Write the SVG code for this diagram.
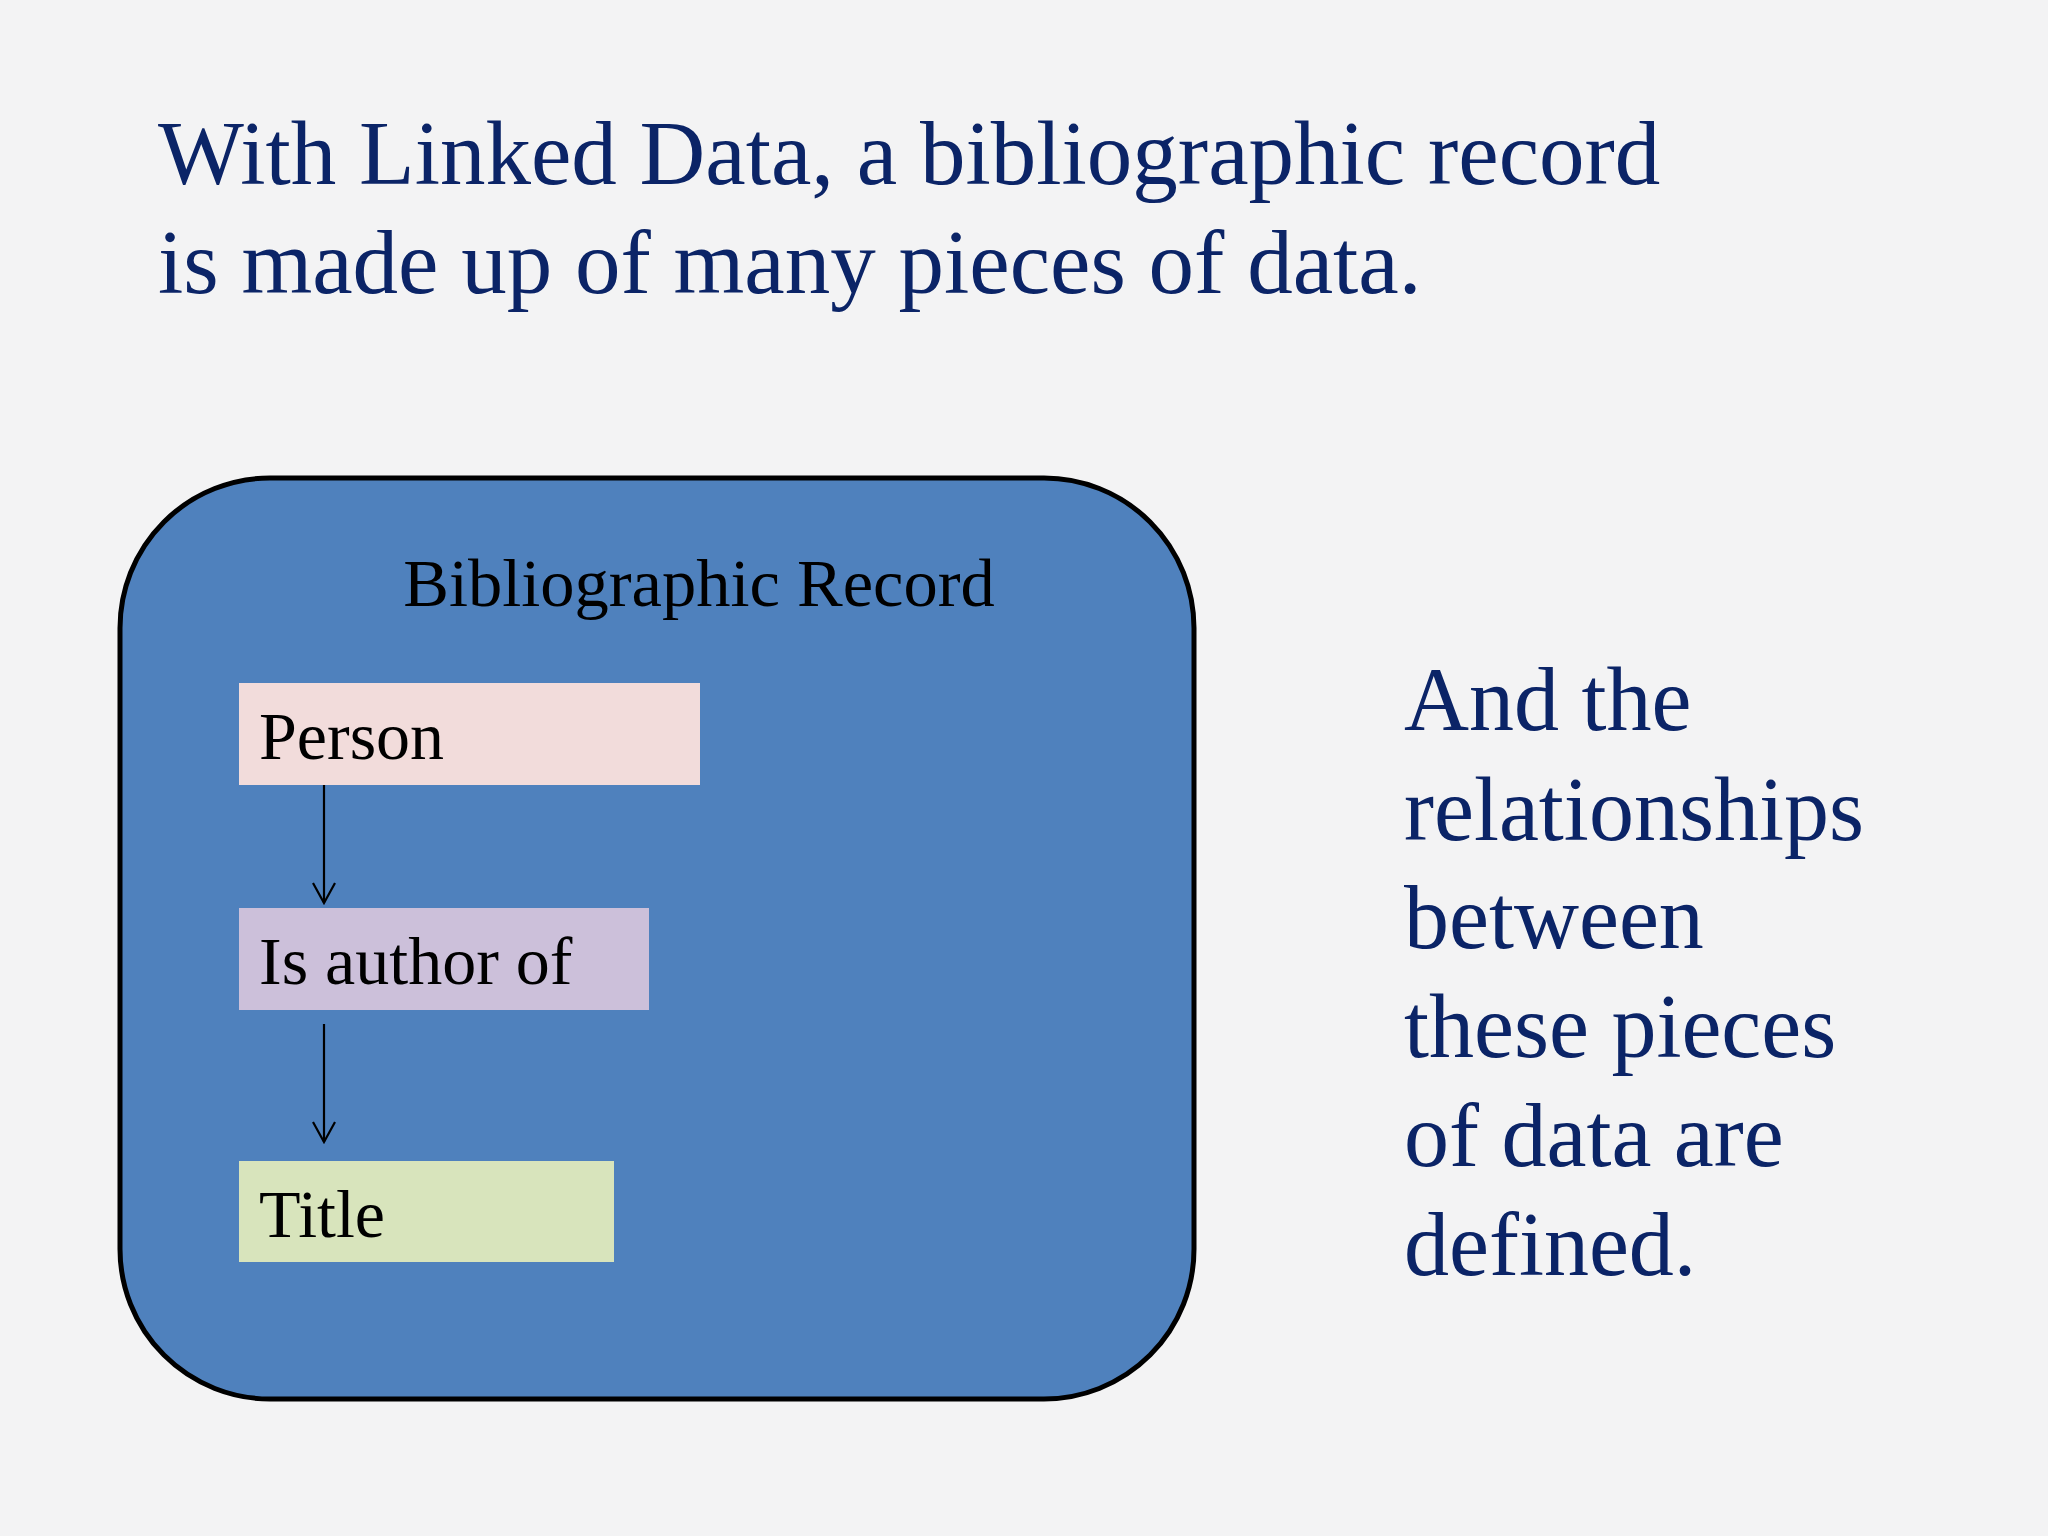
<svg xmlns="http://www.w3.org/2000/svg" width="2048" height="1536" viewBox="0 0 2048 1536">
<style>
.title{font-family:"Liberation Serif","Times New Roman",serif;font-size:91px;fill:#0B2467}
.side{font-family:"Liberation Serif","Times New Roman",serif;font-size:90px;fill:#0B2467}
.lbl{font-family:"Liberation Serif","Times New Roman",serif;font-size:68px;fill:#000}
.conn{stroke:#000;stroke-width:2.2;fill:none}
</style>
<defs>
<marker id="arr" viewBox="0 0 24 24" refX="22" refY="12" markerWidth="24" markerHeight="24" markerUnits="userSpaceOnUse" orient="auto">
<path d="M2,1 L22,12 L2,23" fill="none" stroke="#000" stroke-width="2.2"/>
</marker>
</defs>
<rect width="2048" height="1536" fill="#F3F3F4"/>
<g id="heading">
<text class="title" x="158" y="184">With Linked Data, a bibliographic record</text>
<text class="title" x="158" y="293">is made up of many pieces of data.</text>
</g>
<g id="record">
<rect x="120" y="478" width="1074" height="921" rx="150" ry="150" fill="#4F81BD" stroke="#000" stroke-width="5"/>
<text x="699" y="606" text-anchor="middle" font-family="Liberation Serif, Times New Roman, serif" font-size="68.5" fill="#000">Bibliographic Record</text>
</g>
<g id="person">
<rect x="239" y="683" width="461" height="102" fill="#F2DCDB"/>
<text class="lbl" x="259" y="759">Person</text>
</g>
<g id="is-author-of">
<rect x="239" y="908" width="410" height="102" fill="#CCC0DA"/>
<text class="lbl" x="259" y="984">Is author of</text>
</g>
<g id="title">
<rect x="239" y="1161" width="375" height="101" fill="#D8E4BC"/>
<text class="lbl" x="259" y="1237">Title</text>
</g>
<g id="connectors">
<line class="conn" x1="324" y1="785" x2="324" y2="903" marker-end="url(#arr)"/>
<line class="conn" x1="324" y1="1024" x2="324" y2="1142" marker-end="url(#arr)"/>
</g>
<g id="side-note">
<text class="side" x="1404" y="730">And the</text>
<text class="side" x="1404" y="840">relationships</text>
<text class="side" x="1404" y="948">between</text>
<text class="side" x="1404" y="1057">these pieces</text>
<text class="side" x="1404" y="1166">of data are</text>
<text class="side" x="1404" y="1275">defined.</text>
</g>
</svg>
